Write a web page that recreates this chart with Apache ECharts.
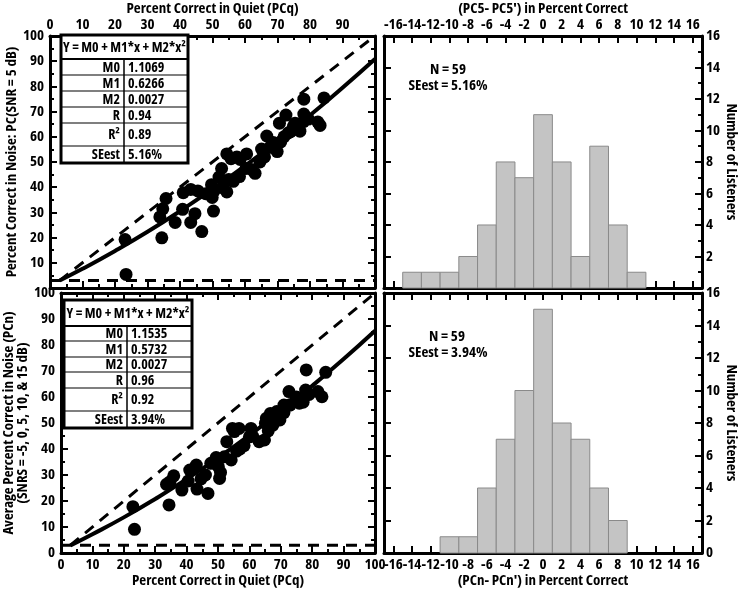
<!DOCTYPE html>
<html><head><meta charset="utf-8">
<script src="https://cdn.jsdelivr.net/npm/echarts@6/dist/echarts.min.js"></script>
<style>html,body{margin:0;padding:0;background:#fff}#c{width:740px;height:589px}</style>
</head><body><div id="c"></div>
<script>
// ---------------- DATA ----------------
const quietTop = [23.1,23.4,34.4,33.8,34.7,35.7,38.5,40.8,41.0,43.3,43.3,44.6,46.7,47.9,49.7,49.9,50.3,50.5,52.8,53.3,54.4,54.4,55.7,56.4,58.3,60.5,60.3,63.1,64.6,65.1,66.7,67.7,68.7,69.9,70.6,72.6,73.3,74.9,75.4,76.9,78.1,78.1,82.4,83.1,84.3,52.0,57.5,62.0,66.0,68.0,71.0,72.0,74.0,76.0,78.0,55.0,45.5,58.5,79.5];
const noiseTop = [19.2,5.4,19.9,28.2,31.4,35.5,26.0,31.2,37.8,39.1,26.0,29.5,22.4,37.4,41.0,35.9,30.5,38.5,47.4,39.7,38.1,53.2,51.3,42.3,44.2,53.2,47.4,45.5,50.0,55.1,60.3,55.8,57.7,54.1,65.4,68.6,61.5,64.1,65.4,62.2,74.9,69.0,65.8,64.5,75.4,44.0,52.0,47.0,52.0,56.0,58.0,60.0,62.0,63.0,66.0,43.0,38.5,51.0,67.0];
const quietBot = [22.9,23.4,34.4,33.6,34.7,35.9,38.5,40.5,41.0,43.1,43.3,44.6,46.8,47.7,49.4,50.1,50.5,52.8,54.2,54.6,55.9,55.2,56.7,58.3,60.5,60.0,63.1,64.8,65.1,65.4,66.7,67.5,68.7,69.2,69.7,71.0,72.6,72.8,74.9,75.9,77.1,78.1,77.9,81.8,83.1,84.3,50.8,52.0,57.0,61.0,66.0,67.0,69.0,71.0,73.0,75.0,77.0,46.0,79.0];
const noiseBot = [17.8,9.1,18.5,26.4,27.4,29.7,24.2,27.7,31.9,33.8,24.6,28.5,22.9,34.5,36.7,33.2,28.7,42.8,35.8,47.9,39.2,46.7,47.9,41.3,47.9,44.7,42.8,43.5,49.9,51.8,53.7,49.2,54.4,51.8,51.2,56.9,62.1,56.9,58.8,57.6,58.0,70.4,62.7,62.1,60.1,69.5,31.0,37.0,40.0,45.0,47.0,52.0,53.0,54.0,57.0,60.0,59.0,30.0,61.0];
// fitted curves
const fitX = [3,10,20,30,40,50,60,70,80,90,100];
const fitTopY = [3.0,7.6,14.7,22.3,30.5,39.2,48.4,58.2,68.5,79.4,90.8];
const fitBotY = [2.9,7.2,13.7,20.8,28.4,36.6,45.3,54.5,64.3,74.6,85.5];
// reference lines
const identityX = [3,100];
const chanceLevel = 3;
const chanceX = [0,100];
// histograms
const binCenters = [-14,-12,-10,-8,-6,-4,-2,0,2,4,6,8,10];
const histTop = [1,1,1,2,4,8,7,11,8,2,9,4,1];
const binCentersBot = [-10,-8,-6,-4,-2,0,2,4,6,8];
const histBot = [1,1,4,7,10,15,8,7,4,2];
const binWidth = 2;
const histTicks = [-16,-14,-12,-10,-8,-6,-4,-2,0,2,4,6,8,10,12,14,16];
// tables
const tableHeader = 'Y = M0 + M1*x + M2*x²';
const tableLabels = ['M0','M1','M2','R','R²','SEest'];
const tableTopVals = ['1.1069','0.6266','0.0027','0.94','0.89','5.16%'];
const tableBotVals = ['1.1535','0.5732','0.0027','0.96','0.92','3.94%'];
const annTop = ['N = 59','SEest = 5.16%'];
const annBot = ['N = 59','SEest = 3.94%'];

// ---------------- FONT PICK (narrowest available bold sans) ----------------
const probe = 'Percent Correct in Quiet (PCq)';
const cands = [
  {fam: '"Liberation Sans Narrow"', w: 'bold'},
  {fam: '"Arial Narrow"', w: 'bold'},
  {fam: '"DejaVu Sans Condensed"', w: 'bold'},
  {fam: '"Roboto Condensed"', w: 'bold'},
  {fam: '"Open Sans"', w: 'bold condensed'},
  {fam: '"Noto Sans"', w: 'bold condensed'},
  {fam: '"DejaVu Sans"', w: 'bold condensed'},
  {fam: '"Liberation Sans"', w: 'bold'}
];
const ctx = document.createElement('canvas').getContext('2d');
function measure(c, size) { ctx.font = c.w + ' ' + size + 'px ' + c.fam + ', monospace'; return ctx.measureText(probe).width; }
ctx.font = 'bold 14px monospace';
const monoW = ctx.measureText(probe).width;
let best = cands[cands.length - 1], bestW = measure(best, 14);
cands.forEach(c => { const w = measure(c, 14); if (Math.abs(w - monoW) > 0.5 && w < bestW - 0.5) { best = c; bestW = w; } });
const FF = best.fam + ', "Liberation Sans", Arial, sans-serif';
const FW = best.w;
const FS = Math.max(11, Math.min(15, Math.round(14 * 178 / bestW * 2) / 2));
const FSs = Math.max(10, FS - 1);

// ---------------- CHART ----------------
const BLK = '#000';
const lbl = (extra) => Object.assign({fontFamily: FF, fontWeight: FW, fontSize: FS, color: BLK, margin: 4,
  hideOverlap: false, showMinLabel: true, showMaxLabel: true}, extra || {});
const nameStyle = {fontFamily: FF, fontWeight: FW, fontSize: FS, color: BLK};
const aLine = {show: true, onZero: false, lineStyle: {color: BLK, width: 3}};
const tick = {show: true, inside: true, length: 7, lineStyle: {color: BLK, width: 2}};
const minor = {show: true, splitNumber: 2, length: 4, lineStyle: {color: BLK, width: 2}};

const grids = [
  {left: 50, top: 30, width: 325, height: 258},
  {left: 50, top: 293, width: 325, height: 260},
  {left: 384, top: 30, width: 326, height: 258},
  {left: 384, top: 293, width: 326, height: 260}
];

function pctX(grid, pos, showLabels, name, hide100) {
  return {type: 'value', gridIndex: grid, position: pos, min: 0, max: 100, interval: 10,
    axisLine: aLine, axisTick: tick, minorTick: minor, splitLine: {show: false},
    axisLabel: lbl({show: showLabels, formatter: v => (hide100 && v === 100) ? '' : String(v)}),
    name: name || '', nameLocation: 'middle', nameGap: pos === 'top' ? 16 : 20, nameTextStyle: nameStyle};
}
function pctY(grid, pos, showLabels, name, hide0, gap) {
  return {type: 'value', gridIndex: grid, position: pos, min: 0, max: 100, interval: 10,
    axisLine: aLine, axisTick: tick, minorTick: minor, splitLine: {show: false},
    axisLabel: lbl({show: showLabels, margin: 6, formatter: v => (hide0 && v === 0) ? '' : String(v)}),
    name: name || '', nameLocation: 'middle', nameGap: gap || 30, nameTextStyle: Object.assign({}, nameStyle, {lineHeight: 14})};
}
function histX(grid, pos, showLabels, name) {
  return {type: 'value', gridIndex: grid, position: pos, min: -17, max: 17,
    axisLine: aLine, splitLine: {show: false},
    axisTick: Object.assign({}, tick, {customValues: histTicks}),
    axisLabel: lbl({show: showLabels, customValues: histTicks}),
    name: name || '', nameLocation: 'middle', nameGap: pos === 'top' ? 16 : 20, nameTextStyle: nameStyle};
}
function histYLeft(grid) {
  return {type: 'value', gridIndex: grid, position: 'left', min: 0, max: 16, interval: 2,
    axisLine: aLine, axisTick: tick, splitLine: {show: false}, axisLabel: {show: false}};
}
function histYRight(grid, hide0) {
  return {type: 'value', gridIndex: grid, position: 'right', min: 0, max: 16, interval: 2,
    axisLine: aLine, axisTick: tick, minorTick: minor, splitLine: {show: false},
    axisLabel: lbl({margin: 4, formatter: v => (hide0 && v === 0) ? '' : String(v)}),
    name: 'Number of Listeners', nameLocation: 'middle', nameGap: 17, nameRotate: -90, nameTextStyle: nameStyle};
}

const xAxis = [
  pctX(0, 'bottom', false),
  pctX(0, 'top', true, 'Percent Correct in Quiet (PCq)', true),
  pctX(1, 'bottom', true, 'Percent Correct in Quiet (PCq)'),
  pctX(1, 'top', false),
  histX(2, 'bottom', false),
  histX(2, 'top', true, "(PC5- PC5') in Percent Correct"),
  histX(3, 'bottom', true, "(PCn- PCn') in Percent Correct"),
  histX(3, 'top', false)
];
const yAxis = [
  pctY(0, 'left', true, 'Percent Correct in Noise: PC(SNR = 5 dB)', true, 31),
  pctY(0, 'right', false),
  pctY(1, 'left', true, 'Average Percent Correct in Noise (PCn)\n(SNRS = -5, 0, 5, 10, & 15 dB)', false, 22),
  pctY(1, 'right', false),
  histYLeft(2),
  histYRight(2, true),
  histYLeft(3),
  histYRight(3, false)
];

const zip = (a, b) => a.map((v, i) => [v, b[i]]);
const lineS = (xi, yi, data, dashed, width) => ({type: 'line', xAxisIndex: xi, yAxisIndex: yi, data: data,
  showSymbol: false, symbol: 'none', smooth: !dashed, silent: true, animation: false,
  lineStyle: {color: BLK, width: width, type: dashed ? [11, 8] : 'solid'}, z: 3});
const scatS = (xi, yi, data) => ({type: 'scatter', xAxisIndex: xi, yAxisIndex: yi, data: data,
  symbolSize: 13, itemStyle: {color: BLK, opacity: 1}, animation: false, z: 4});
const histS = (xi, yi, centers, counts) => ({type: 'custom', xAxisIndex: xi, yAxisIndex: yi,
  data: zip(centers, counts), animation: false, z: 2,
  renderItem: (params, api) => {
    const c = api.value(0), n = api.value(1);
    const p1 = api.coord([c - binWidth / 2, n]);
    const p2 = api.coord([c + binWidth / 2, 0]);
    return {type: 'rect', shape: {x: p1[0], y: p1[1], width: p2[0] - p1[0], height: p2[1] - p1[1]},
      style: {fill: '#c4c4c4', stroke: '#8a8a8a', lineWidth: 1}};
  }});

const series = [
  lineS(0, 0, zip(chanceX, chanceX.map(() => chanceLevel)), true, 3),
  lineS(0, 0, zip(identityX, identityX), true, 3),
  lineS(0, 0, zip(fitX, fitTopY), false, 4),
  scatS(0, 0, zip(quietTop, noiseTop)),
  lineS(2, 2, zip(chanceX, chanceX.map(() => chanceLevel)), true, 3),
  lineS(2, 2, zip(identityX, identityX), true, 3),
  lineS(2, 2, zip(fitX, fitBotY), false, 4),
  scatS(2, 2, zip(quietBot, noiseBot)),
  histS(4, 4, binCenters, histTop),
  histS(6, 6, binCentersBot, histBot)
];

// tables drawn as graphic
const tFont = {fontFamily: FF, fontWeight: FW, fontSize: FSs, fill: BLK};
function table(x0, x1, colX, rows, vals) {
  const els = [];
  const top = rows[0], bot = rows[rows.length - 1];
  els.push({type: 'rect', shape: {x: x0, y: top, width: x1 - x0, height: bot - top}, style: {fill: '#fff', stroke: BLK, lineWidth: 3}, z: 100});
  for (let i = 1; i < rows.length - 1; i++) {
    els.push({type: 'line', shape: {x1: x0, y1: rows[i], x2: x1, y2: rows[i]}, style: {stroke: BLK, lineWidth: i === 1 ? 2 : 1.2}, z: 101});
  }
  els.push({type: 'line', shape: {x1: colX, y1: rows[1], x2: colX, y2: bot}, style: {stroke: BLK, lineWidth: 1.5}, z: 101});
  els.push({type: 'text', x: (x0 + x1) / 2, y: (rows[0] + rows[1]) / 2 + 1, style: Object.assign({text: tableHeader, align: 'center', verticalAlign: 'middle'}, tFont), z: 102});
  tableLabels.forEach((t, i) => {
    const cy = (rows[i + 1] + rows[i + 2]) / 2 + 1;
    els.push({type: 'text', x: colX - 4, y: cy, style: Object.assign({text: t, align: 'right', verticalAlign: 'middle'}, tFont), z: 102});
    els.push({type: 'text', x: colX + 4, y: cy, style: Object.assign({text: vals[i], align: 'left', verticalAlign: 'middle'}, tFont), z: 102});
  });
  return els;
}
const annFont = {fontFamily: FF, fontWeight: FW, fontSize: FS, fill: BLK, align: 'center', verticalAlign: 'middle'};
const graphic = [].concat(
  table(61, 188, 124, [35, 59, 75, 91, 107, 123, 146, 163], tableTopVals),
  table(64, 192, 127, [300, 326, 341, 357, 372, 388, 411, 428], tableBotVals),
  [
    {type: 'text', x: 448, y: 70, style: Object.assign({text: annTop[0]}, annFont), z: 102},
    {type: 'text', x: 448, y: 86, style: Object.assign({text: annTop[1]}, annFont), z: 102},
    {type: 'text', x: 447, y: 337, style: Object.assign({text: annBot[0]}, annFont), z: 102},
    {type: 'text', x: 448, y: 353, style: Object.assign({text: annBot[1]}, annFont), z: 102}
  ]
);

const chart = echarts.init(document.getElementById('c'), null, {renderer: 'canvas'});
chart.setOption({
  backgroundColor: '#fff',
  animation: false,
  grid: grids,
  xAxis: xAxis,
  yAxis: yAxis,
  series: series,
  graphic: graphic
});
</script>
</body></html>
